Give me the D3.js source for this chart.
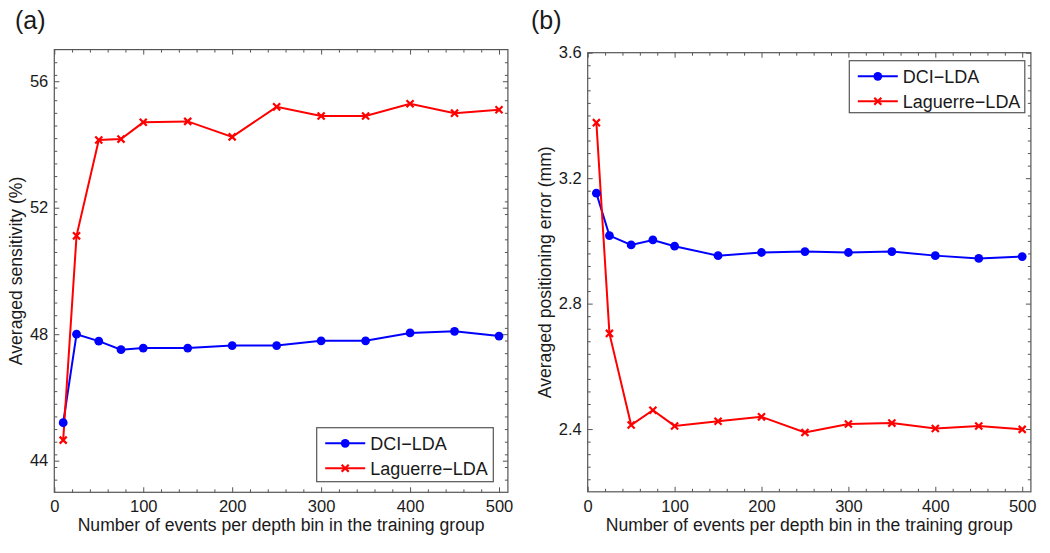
<!DOCTYPE html>
<html>
<head>
<meta charset="utf-8">
<script src="https://cdn.jsdelivr.net/npm/d3@7"></script>
<style>
  html, body { margin: 0; padding: 0; background: #fff; }
  svg { display: block; font-family: "Liberation Sans", Arial, Helvetica, sans-serif; }
</style>
</head>
<body>
<svg id="chart" width="1050" height="553"></svg>
<script>
// ---------------- data ----------------
const nEvents = [10, 25, 50, 75, 100, 150, 200, 250, 300, 350, 400, 450, 500];
const sensDCI = [45.20, 48.00, 47.78, 47.51, 47.56, 47.56, 47.64, 47.64, 47.79, 47.79, 48.04, 48.09, 47.94];
const sensLag = [44.65, 51.11, 54.14, 54.17, 54.70, 54.73, 54.24, 55.19, 54.90, 54.90, 55.29, 54.99, 55.10];
const errDCI  = [3.152, 3.017, 2.987, 3.003, 2.983, 2.953, 2.963, 2.966, 2.963, 2.966, 2.953, 2.944, 2.950];
const errLag  = [3.377, 2.705, 2.413, 2.460, 2.410, 2.425, 2.439, 2.389, 2.416, 2.419, 2.402, 2.410, 2.399];

const xTickValues = [0, 100, 200, 300, 400, 500];
const sensTickValues = [44, 48, 52, 56];
const errTickValues = [2.4, 2.8, 3.2, 3.6];
const seriesNames = ["DCI\u2212LDA", "Laguerre\u2212LDA"];
const panelLabels = ["(a)", "(b)"];
const xTitle = "Number of events per depth bin in the training group";
const yTitles = ["Averaged sensitivity (%)", "Averaged positioning error (mm)"];

// ---------------- layout ----------------
const svg = d3.select("#chart");
const BLUE = "#0000ff", RED = "#ff0000", AXIS = "#555", TEXT = "#1a1a1a";

const panels = [
  { x0: 54.3, x1: 507.9, y0: 492.3, y1: 49.6, yDomain: [43, 57], yTicks: sensTickValues, yMinorStep: 0.4,
    dci: sensDCI, lag: sensLag, fmt: d3.format("d"), label: panelLabels[0], labelX: 15, titleX: 22, yTitle: yTitles[0],
    legend: { x: 316.7, y: 427.7, w: 176.6, h: 54 } },
  { x0: 587.7, x1: 1030.9, y0: 491.8, y1: 52.7, yDomain: [2.2, 3.6], yTicks: errTickValues, yMinorStep: 0.04,
    dci: errDCI, lag: errLag, fmt: d3.format(".1f"), label: panelLabels[1], labelX: 531, titleX: 551, yTitle: yTitles[1],
    legend: { x: 849.3, y: 60.7, w: 175.5, h: 52 } }
];

panels.forEach(p => {
  const x = d3.scaleLinear().domain([0, 510]).range([p.x0, p.x1]);
  const y = d3.scaleLinear().domain(p.yDomain).range([p.y0, p.y1]);
  const g = svg.append("g");

  const xMinor = d3.range(0, 511, 20).filter(v => !xTickValues.includes(v));
  const yMinor = d3.range(p.yDomain[0], p.yDomain[1] + 1e-9, p.yMinorStep)
    .map(v => +v.toFixed(4)).filter(v => !p.yTicks.some(t => Math.abs(t - v) < 1e-6) && v > p.yDomain[0] + 1e-6 && v < p.yDomain[1] - 1e-6);

  function styleAxis(sel) {
    sel.select(".domain").remove();
    sel.selectAll(".tick line").attr("stroke", AXIS).attr("stroke-width", 1);
    sel.selectAll(".tick text").attr("fill", TEXT).attr("font-size", 16.5)
      .attr("font-family", '"Liberation Sans", Arial, sans-serif');
  }

  // major ticks with labels
  g.append("g").attr("transform", `translate(0,${p.y0})`)
    .call(d3.axisBottom(x).tickValues(xTickValues).tickSize(-5).tickPadding(8.3).tickFormat(d3.format("d")))
    .call(styleAxis);
  g.append("g").attr("transform", `translate(${p.x0},0)`)
    .call(d3.axisLeft(y).tickValues(p.yTicks).tickSize(-5).tickPadding(6).tickFormat(p.fmt))
    .call(styleAxis);
  // mirrored majors
  g.append("g").attr("transform", `translate(0,${p.y1})`)
    .call(d3.axisTop(x).tickValues(xTickValues).tickSize(-5).tickFormat(""))
    .call(styleAxis);
  g.append("g").attr("transform", `translate(${p.x1},0)`)
    .call(d3.axisRight(y).tickValues(p.yTicks).tickSize(-5).tickFormat(""))
    .call(styleAxis);
  // minor ticks
  g.append("g").attr("transform", `translate(0,${p.y0})`)
    .call(d3.axisBottom(x).tickValues(xMinor).tickSize(-3).tickFormat("")).call(styleAxis);
  g.append("g").attr("transform", `translate(0,${p.y1})`)
    .call(d3.axisTop(x).tickValues(xMinor).tickSize(-3).tickFormat("")).call(styleAxis);
  g.append("g").attr("transform", `translate(${p.x0},0)`)
    .call(d3.axisLeft(y).tickValues(yMinor).tickSize(-3).tickFormat("")).call(styleAxis);
  g.append("g").attr("transform", `translate(${p.x1},0)`)
    .call(d3.axisRight(y).tickValues(yMinor).tickSize(-3).tickFormat("")).call(styleAxis);

  // frame
  g.append("rect").attr("x", p.x0).attr("y", p.y1).attr("width", p.x1 - p.x0).attr("height", p.y0 - p.y1)
    .attr("fill", "none").attr("stroke", AXIS).attr("stroke-width", 1.2);

  // series
  const lineGen = d3.line().x((d, i) => x(nEvents[i])).y(d => y(d));
  g.append("path").datum(p.dci).attr("d", lineGen).attr("fill", "none").attr("stroke", BLUE).attr("stroke-width", 2);
  g.append("path").datum(p.lag).attr("d", lineGen).attr("fill", "none").attr("stroke", RED).attr("stroke-width", 2);
  g.selectAll(".dot").data(p.dci).enter().append("circle")
    .attr("cx", (d, i) => x(nEvents[i])).attr("cy", d => y(d)).attr("r", 4.4).attr("fill", BLUE);
  const cross = d3.symbol().type(d3.symbolX).size(34);
  g.selectAll(".crs").data(p.lag).enter().append("path")
    .attr("d", cross).attr("transform", (d, i) => `translate(${x(nEvents[i])},${y(d)})`)
    .attr("fill", "none").attr("stroke", RED).attr("stroke-width", 2.2);

  // axis titles
  g.append("text").attr("x", (p.x0 + p.x1) / 2).attr("y", 530.5).attr("text-anchor", "middle")
    .attr("font-size", 17.6).attr("fill", TEXT).text(xTitle);
  g.append("text").attr("transform", `translate(${p.titleX},${(p.y0 + p.y1) / 2}) rotate(-90)`)
    .attr("text-anchor", "middle").attr("font-size", 17.6).attr("fill", TEXT).text(p.yTitle);
  g.append("text").attr("x", p.labelX).attr("y", 29).attr("font-size", 25).attr("fill", TEXT).text(p.label);

  // legend
  const L = p.legend;
  const lg = g.append("g").attr("transform", `translate(${L.x},${L.y})`);
  lg.append("rect").attr("width", L.w).attr("height", L.h).attr("fill", "#fff").attr("stroke", AXIS).attr("stroke-width", 1.2);
  const rows = [15.6, 40.6];
  [BLUE, RED].forEach((c, k) => {
    lg.append("line").attr("x1", 8.5).attr("x2", 48.5).attr("y1", rows[k]).attr("y2", rows[k]).attr("stroke", c).attr("stroke-width", 2);
    if (k === 0) lg.append("circle").attr("cx", 28.5).attr("cy", rows[k]).attr("r", 4.4).attr("fill", c);
    else lg.append("path").attr("d", cross).attr("transform", `translate(28.5,${rows[k]})`).attr("fill", "none").attr("stroke", c).attr("stroke-width", 2.2);
    lg.append("text").attr("x", 53.5).attr("y", rows[k]).attr("dy", "0.36em").attr("font-size", 18).attr("fill", TEXT).text(seriesNames[k]);
  });
});
</script>
</body>
</html>
